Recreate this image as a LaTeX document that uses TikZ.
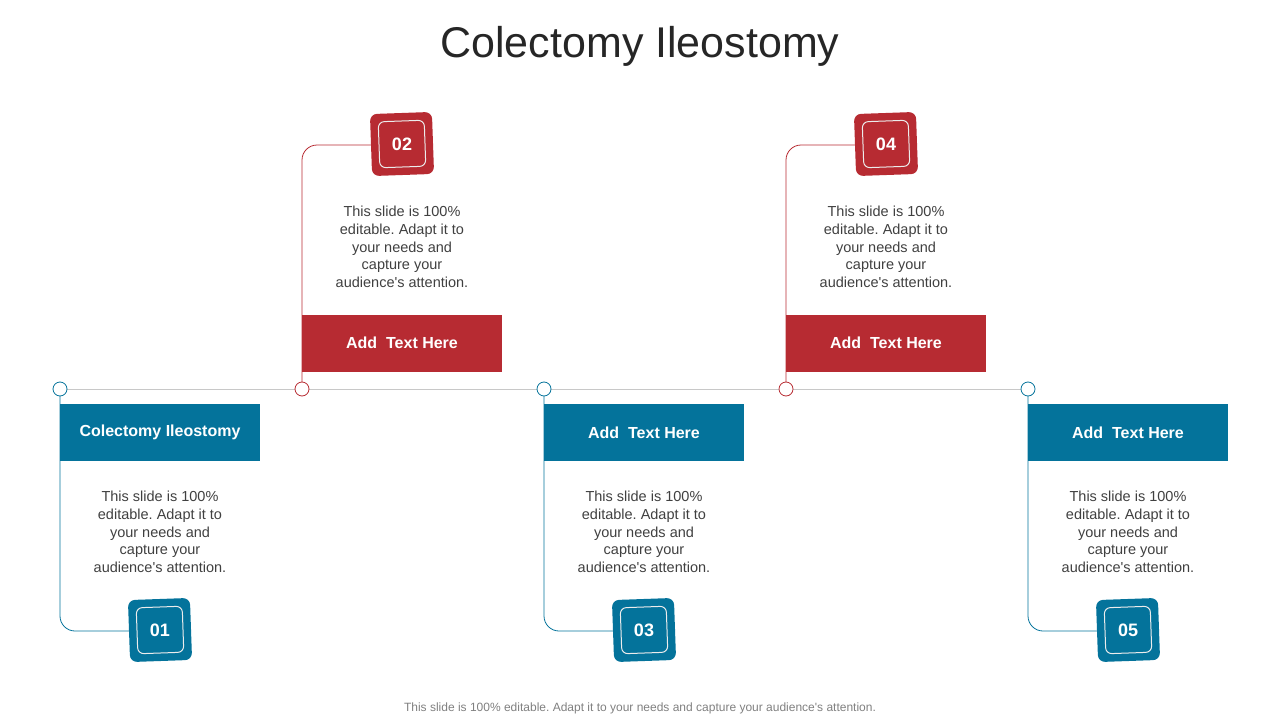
\documentclass[tikz,border=0pt]{standalone}
\usepackage{fontspec}
\setmainfont{Liberation Sans}
\frenchspacing
\definecolor{myred}{RGB}{183,43,50}
\definecolor{myblue}{RGB}{4,115,155}
\definecolor{lgray}{RGB}{200,200,200}
\definecolor{tgray}{RGB}{64,64,64}
\newcommand{\bodytxt}{This slide is 100\%\\editable. Adapt it to\\your needs and\\capture your\\audience\textquotesingle s attention.}
\begin{document}
\begin{tikzpicture}[x=1pt,y=-1pt,
  hdr/.style={minimum width=200pt,minimum height=57pt,inner sep=0pt,text=white,font=\fontsize{16}{18}\selectfont\bfseries},
  body/.style={align=center,text=tgray,font=\fontsize{14.5}{17.8}\selectfont},
  badge/.style={minimum width=62pt,minimum height=62pt,rounded corners=7pt,inner sep=0pt,rotate=2},
  inbadge/.style={minimum width=46pt,minimum height=46pt,rounded corners=6pt,draw=white!85!gray,line width=1pt,inner sep=0pt,rotate=2},
  num/.style={text=white,font=\fontsize{18}{20}\selectfont\bfseries,inner sep=0pt},
  dot/.style={circle,draw,fill=white,minimum size=14pt,inner sep=0pt,line width=0.8pt},
  link/.style={line width=0.8pt,rounded corners=15pt}]
\useasboundingbox (0,0) rectangle (1280,720);
\node[font=\fontsize{43}{48}\selectfont,text=black!85] (title) at (640,46) {Colectomy Ileostomy};
\draw[lgray,line width=1pt] (60,389) -- (1028,389);
% red items
\foreach \n/\x/\lab in {b/302/02,d/786/04}{
  \node[badge,fill=myred] (bd\n) at (\x+100,144) {};
  \node[inbadge] (ib\n) at (\x+100,144) {};
  \node[num] (nm\n) at (\x+100,144) {\lab};
  \coordinate (c\n) at (\x,389);
  \coordinate (e\n) at (\x+72,145);
  \draw[link,myred] (c\n) -- (\x,145) -- (e\n);
  \node[hdr,fill=myred] (h\n) at (\x+100,343) {Add\ \ Text Here};
  \node[body] (t\n) at (\x+100,247) {\bodytxt};
  \node[dot,draw=myred] (o\n) at (c\n) {};
}
% blue items
\foreach \n/\x/\lab/\h in {a/60/01/Colectomy Ileostomy,c/544/03/Add\ \ Text Here,e/1028/05/Add\ \ Text Here}{
  \node[badge,fill=myblue] (bd\n) at (\x+100,630) {};
  \node[inbadge] (ib\n) at (\x+100,630) {};
  \node[num] (nm\n) at (\x+100,630) {\lab};
  \coordinate (c\n) at (\x,389);
  \coordinate (e\n) at (\x+72,631);
  \draw[link,myblue] (c\n) -- (\x,631) -- (e\n);
  \node[hdr,fill=myblue] (h\n) at (\x+100,432.5) {\h};
  \node[body] (t\n) at (\x+100,532) {\bodytxt};
  \node[dot,draw=myblue] (o\n) at (c\n) {};
}
\node[text=gray,font=\fontsize{12}{14}\selectfont] (foot) at (640,708) {This slide is 100\% editable. Adapt it to your needs and capture your audience\textquotesingle s attention.};
\end{tikzpicture}
\end{document}
